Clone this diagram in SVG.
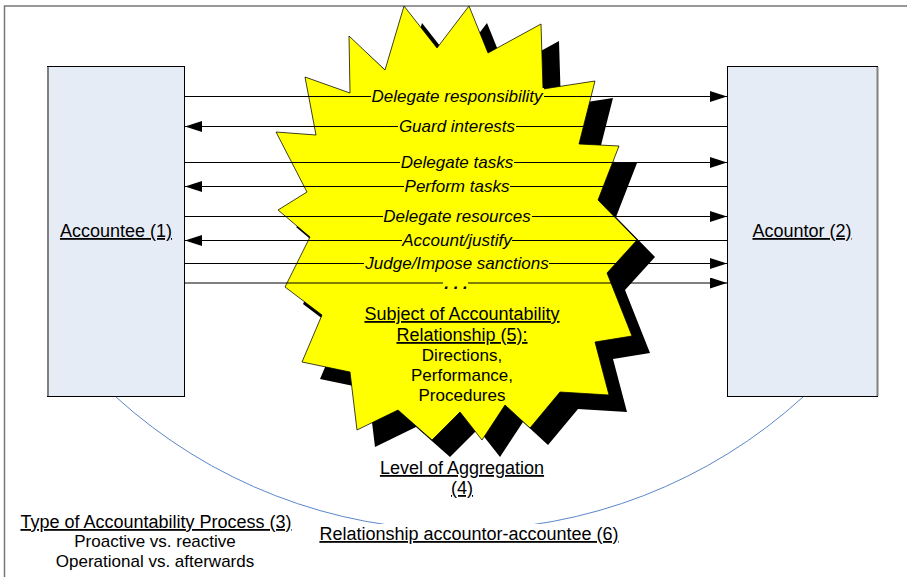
<svg xmlns="http://www.w3.org/2000/svg" width="907" height="577" viewBox="0 0 907 577">
  <style>
    text { font-family: "Liberation Sans", Arial, sans-serif; fill: #000; }
    .flow { font-size: 17px; font-style: italic; text-anchor: middle; }
    .plain { font-size: 17px; text-anchor: middle; }
    .head { font-size: 18px; text-anchor: middle; text-decoration: underline; }
    .box { fill: #e6ecf6; stroke: #000; stroke-width: 1; }
    .edge { stroke: #808080; stroke-width: 2; }
    .conn line { stroke: #000; stroke-width: 1; marker-end: url(#head); }
    .bg { fill: #ffff00; }
    .arc { fill: none; stroke: #5b87c9; stroke-width: 1; }
  </style>
  <defs>
    <marker id="head" markerUnits="userSpaceOnUse" markerWidth="17" markerHeight="12" refX="17" refY="5.5" orient="auto">
      <path d="M0,0 L17,5.5 L0,11 Z" fill="#000"/>
    </marker>
    <polygon id="burst" points="404,6 437,48 469,6 488,53 541,24 543,89 595,81 579,144 619,146 598,200 637,240 607,273 632,336 595,342 609,395 560,392 530,428 505,405 482,440 460,412 432,440 398,410 357,430 350,372 302,362 322,315 285,287 310,237 278,210 307,192 276,132 316,135 305,77 350,93 349,36 385,70"/>
  </defs>

  <!-- page frame -->
  <rect x="4.5" y="6" width="1000" height="1000" fill="#fff" stroke="#777" stroke-width="1.5"/>

  <!-- explosion shape with drop shadow -->
  <g id="subject">
    <use href="#burst" transform="translate(18,17)" fill="#000"/>
    <use href="#burst" fill="#ffff00" stroke="#000" stroke-width="0.75"/>
  </g>

  <!-- relationship arc between the two parties -->
  <g id="relationship">
    <path class="arc" d="M116,397 A510,510 0 0 0 803,397"/>
    <rect x="316" y="524" width="306" height="24" fill="#fff"/>
    <text class="head" x="469" y="540">Relationship accountor-accountee (6)</text>
  </g>

  <g id="accountee">
    <rect class="box" x="47.5" y="66.5" width="137" height="330"/>
    <line class="edge" x1="48" y1="67" x2="48" y2="396"/>
    <text class="head" x="116" y="237">Accountee (1)</text>
  </g>

  <g id="accountor">
    <rect class="box" x="727.5" y="66.5" width="150" height="330"/>
    <line class="edge" x1="877.5" y1="67" x2="877.5" y2="396"/>
    <text class="head" x="802" y="237">Acountor (2)</text>
  </g>

  <!-- interaction connectors -->
  <g class="conn" id="connectors">
    <line x1="185" y1="96.5" x2="727" y2="96.5"/>
    <line x1="727" y1="126.5" x2="185" y2="126.5"/>
    <line x1="185" y1="162.5" x2="727" y2="162.5"/>
    <line x1="727" y1="186.5" x2="185" y2="186.5"/>
    <line x1="185" y1="216.5" x2="727" y2="216.5"/>
    <line x1="727" y1="240.5" x2="185" y2="240.5"/>
    <line x1="185" y1="263.5" x2="727" y2="263.5"/>
    <line x1="185" y1="283" x2="727" y2="283"/>
  </g>

  <!-- connector labels -->
  <g id="labels">
    <rect class="bg" x="371" y="88" width="173" height="17"/>
    <text class="flow" x="457" y="102">Delegate responsibility</text>
    <rect class="bg" x="398" y="118" width="118" height="17"/>
    <text class="flow" x="457" y="132">Guard interests</text>
    <rect class="bg" x="400" y="154" width="114" height="17"/>
    <text class="flow" x="457" y="168">Delegate tasks</text>
    <rect class="bg" x="404" y="178" width="106" height="17"/>
    <text class="flow" x="457" y="192">Perform tasks</text>
    <rect class="bg" x="383" y="208" width="149" height="17"/>
    <text class="flow" x="457" y="222">Delegate resources</text>
    <rect class="bg" x="402" y="232" width="110" height="17"/>
    <text class="flow" x="457" y="246">Account/justify</text>
    <rect class="bg" x="364" y="255" width="185" height="17"/>
    <text class="flow" x="457" y="269">Judge/Impose sanctions</text>
    <rect class="bg" x="443" y="278" width="25" height="12"/>
    <text class="flow" x="456" y="289" font-weight="bold">. . .</text>
  </g>

  <g id="subject-text">
    <text class="head" x="462" y="320">Subject of Accountability</text>
    <text class="head" x="462" y="341">Relationship (5):</text>
    <text class="plain" x="462" y="361">Directions,</text>
    <text class="plain" x="462" y="381">Performance,</text>
    <text class="plain" x="462" y="401">Procedures</text>
  </g>

  <g id="aggregation">
    <text class="head" x="462" y="474">Level of Aggregation</text>
    <text class="head" x="462" y="494">(4)</text>
  </g>

  <g id="process-type">
    <text class="head" x="156" y="528">Type of Accountability Process (3)</text>
    <text class="plain" x="155" y="547">Proactive vs. reactive</text>
    <text class="plain" x="155" y="567">Operational vs. afterwards</text>
  </g>
</svg>
